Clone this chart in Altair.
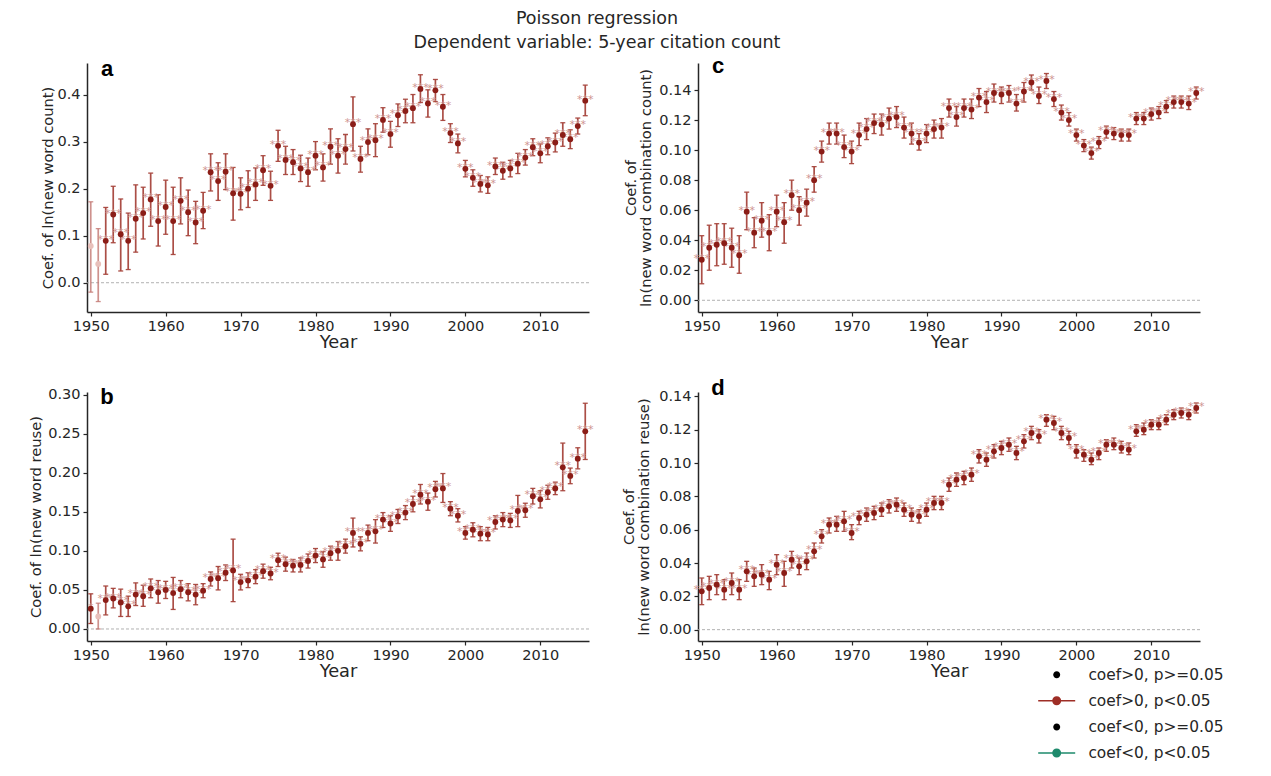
import altair as alt
import pandas as pd

# ---------------- data ----------------
years = list(range(1950, 2017))
x_ticks = [1950, 1960, 1970, 1980, 1990, 2000, 2010]

a_coef = [0.078, 0.040, 0.089, 0.145, 0.103, 0.089, 0.136, 0.148, 0.177, 0.131,
          0.161, 0.131, 0.174, 0.150, 0.128, 0.153, 0.235, 0.216, 0.236, 0.190,
          0.189, 0.200, 0.209, 0.239, 0.206, 0.291, 0.261, 0.256, 0.243, 0.235,
          0.270, 0.245, 0.289, 0.270, 0.284, 0.337, 0.263, 0.299, 0.303, 0.346,
          0.316, 0.356, 0.365, 0.371, 0.412, 0.381, 0.409, 0.374, 0.318, 0.296,
          0.242, 0.223, 0.210, 0.207, 0.247, 0.238, 0.243, 0.253, 0.266, 0.288,
          0.275, 0.290, 0.298, 0.314, 0.305, 0.333, 0.387]
a_lo = [-0.020, -0.040, 0.018, 0.085, 0.025, 0.028, 0.065, 0.093, 0.120, 0.078,
        0.103, 0.060, 0.125, 0.100, 0.083, 0.115, 0.195, 0.175, 0.198, 0.133,
        0.155, 0.160, 0.175, 0.207, 0.175, 0.258, 0.230, 0.230, 0.215, 0.205,
        0.240, 0.216, 0.252, 0.233, 0.252, 0.280, 0.235, 0.272, 0.268, 0.320,
        0.288, 0.332, 0.340, 0.340, 0.383, 0.352, 0.385, 0.345, 0.298, 0.276,
        0.225, 0.205, 0.193, 0.190, 0.230, 0.220, 0.225, 0.232, 0.250, 0.270,
        0.255, 0.272, 0.278, 0.290, 0.285, 0.316, 0.355]
a_hi = [0.172, 0.115, 0.160, 0.205, 0.178, 0.148, 0.208, 0.203, 0.233, 0.187,
        0.218, 0.203, 0.223, 0.197, 0.173, 0.192, 0.274, 0.255, 0.274, 0.245,
        0.223, 0.238, 0.244, 0.270, 0.237, 0.324, 0.290, 0.283, 0.271, 0.265,
        0.300, 0.274, 0.327, 0.306, 0.315, 0.395, 0.290, 0.327, 0.338, 0.372,
        0.343, 0.380, 0.390, 0.400, 0.442, 0.410, 0.432, 0.400, 0.338, 0.316,
        0.260, 0.240, 0.228, 0.225, 0.265, 0.256, 0.260, 0.275, 0.283, 0.306,
        0.295, 0.308, 0.318, 0.340, 0.325, 0.350, 0.420]
a_nonsig = [1950, 1951]

b_coef = [0.026, 0.016, 0.037, 0.039, 0.034, 0.029, 0.044, 0.042, 0.052, 0.047,
          0.050, 0.046, 0.051, 0.047, 0.044, 0.049, 0.064, 0.065, 0.072, 0.075,
          0.060, 0.062, 0.067, 0.074, 0.071, 0.088, 0.083, 0.081, 0.082, 0.087,
          0.094, 0.089, 0.097, 0.100, 0.106, 0.123, 0.109, 0.123, 0.125, 0.140,
          0.135, 0.144, 0.149, 0.160, 0.172, 0.163, 0.179, 0.180, 0.154, 0.145,
          0.123, 0.127, 0.122, 0.121, 0.137, 0.140, 0.139, 0.151, 0.152, 0.170,
          0.166, 0.175, 0.180, 0.207, 0.196, 0.218, 0.253]
b_lo = [0.007, 0.000, 0.018, 0.027, 0.016, 0.016, 0.030, 0.029, 0.040, 0.033,
        0.039, 0.025, 0.040, 0.036, 0.031, 0.040, 0.055, 0.050, 0.062, 0.035,
        0.050, 0.053, 0.058, 0.065, 0.063, 0.080, 0.074, 0.073, 0.073, 0.078,
        0.085, 0.079, 0.088, 0.088, 0.097, 0.105, 0.100, 0.113, 0.110, 0.130,
        0.125, 0.135, 0.140, 0.150, 0.160, 0.152, 0.169, 0.162, 0.145, 0.137,
        0.115, 0.118, 0.113, 0.113, 0.128, 0.131, 0.130, 0.131, 0.143, 0.160,
        0.155, 0.166, 0.172, 0.177, 0.186, 0.205, 0.217]
b_hi = [0.045, 0.033, 0.055, 0.052, 0.051, 0.042, 0.059, 0.056, 0.064, 0.062,
        0.061, 0.066, 0.062, 0.058, 0.057, 0.058, 0.073, 0.080, 0.082, 0.115,
        0.070, 0.072, 0.076, 0.083, 0.079, 0.097, 0.092, 0.089, 0.091, 0.096,
        0.103, 0.099, 0.106, 0.112, 0.115, 0.142, 0.118, 0.133, 0.140, 0.149,
        0.145, 0.153, 0.158, 0.170, 0.185, 0.174, 0.189, 0.199, 0.163, 0.154,
        0.131, 0.136, 0.131, 0.130, 0.145, 0.149, 0.148, 0.171, 0.161, 0.180,
        0.177, 0.184, 0.188, 0.238, 0.206, 0.232, 0.289]
b_nonsig = [1951]

c_coef = [0.027, 0.035, 0.037, 0.038, 0.035, 0.030, 0.059, 0.045, 0.053, 0.045,
          0.059, 0.052, 0.070, 0.060, 0.065, 0.080, 0.099, 0.111, 0.111, 0.102,
          0.099, 0.110, 0.114, 0.118, 0.117, 0.121, 0.122, 0.115, 0.111, 0.105,
          0.111, 0.114, 0.115, 0.128, 0.122, 0.128, 0.127, 0.135, 0.132, 0.138,
          0.137, 0.138, 0.131, 0.139, 0.145, 0.136, 0.146, 0.134, 0.125, 0.120,
          0.110, 0.103, 0.098, 0.105, 0.112, 0.111, 0.110, 0.110, 0.121, 0.121,
          0.124, 0.125, 0.129, 0.132, 0.132, 0.131, 0.138]
c_lo = [0.011, 0.020, 0.023, 0.024, 0.022, 0.018, 0.047, 0.035, 0.042, 0.033,
        0.049, 0.038, 0.060, 0.050, 0.056, 0.072, 0.092, 0.104, 0.104, 0.095,
        0.091, 0.103, 0.107, 0.111, 0.110, 0.114, 0.115, 0.108, 0.104, 0.100,
        0.105, 0.108, 0.108, 0.122, 0.116, 0.122, 0.121, 0.129, 0.125, 0.132,
        0.131, 0.132, 0.126, 0.132, 0.140, 0.131, 0.141, 0.129, 0.120, 0.116,
        0.106, 0.099, 0.094, 0.101, 0.108, 0.107, 0.106, 0.106, 0.117, 0.117,
        0.120, 0.121, 0.125, 0.128, 0.128, 0.127, 0.134]
c_hi = [0.043, 0.050, 0.051, 0.051, 0.048, 0.043, 0.072, 0.055, 0.065, 0.057,
        0.070, 0.065, 0.080, 0.069, 0.074, 0.089, 0.106, 0.118, 0.118, 0.110,
        0.106, 0.118, 0.121, 0.124, 0.124, 0.128, 0.129, 0.122, 0.118, 0.111,
        0.117, 0.120, 0.121, 0.134, 0.129, 0.134, 0.134, 0.141, 0.139, 0.144,
        0.142, 0.143, 0.137, 0.145, 0.150, 0.142, 0.151, 0.139, 0.130, 0.125,
        0.114, 0.107, 0.102, 0.109, 0.116, 0.115, 0.114, 0.114, 0.125, 0.125,
        0.128, 0.129, 0.133, 0.136, 0.136, 0.136, 0.142]
c_nonsig = []

d_coef = [0.023, 0.025, 0.027, 0.024, 0.028, 0.024, 0.035, 0.032, 0.033, 0.030,
          0.039, 0.034, 0.042, 0.038, 0.041, 0.047, 0.056, 0.063, 0.063, 0.065,
          0.058, 0.067, 0.069, 0.070, 0.072, 0.074, 0.075, 0.072, 0.069, 0.068,
          0.072, 0.076, 0.076, 0.087, 0.090, 0.091, 0.093, 0.104, 0.102, 0.107,
          0.109, 0.111, 0.106, 0.113, 0.118, 0.116, 0.126, 0.124, 0.118, 0.115,
          0.107, 0.105, 0.102, 0.106, 0.111, 0.111, 0.109, 0.108, 0.119, 0.120,
          0.123, 0.123, 0.126, 0.129, 0.130, 0.129, 0.133]
d_lo = [0.015, 0.018, 0.021, 0.018, 0.021, 0.018, 0.029, 0.026, 0.027, 0.024,
        0.033, 0.026, 0.037, 0.033, 0.036, 0.043, 0.052, 0.058, 0.059, 0.059,
        0.054, 0.063, 0.065, 0.066, 0.068, 0.070, 0.071, 0.068, 0.065, 0.064,
        0.068, 0.072, 0.072, 0.083, 0.086, 0.087, 0.089, 0.100, 0.098, 0.103,
        0.105, 0.107, 0.102, 0.109, 0.114, 0.112, 0.122, 0.120, 0.114, 0.111,
        0.103, 0.101, 0.099, 0.102, 0.107, 0.108, 0.106, 0.105, 0.116, 0.117,
        0.120, 0.120, 0.123, 0.126, 0.127, 0.126, 0.130]
d_hi = [0.031, 0.032, 0.033, 0.030, 0.034, 0.030, 0.041, 0.037, 0.039, 0.035,
        0.045, 0.041, 0.047, 0.043, 0.046, 0.052, 0.060, 0.067, 0.068, 0.071,
        0.063, 0.071, 0.073, 0.074, 0.076, 0.078, 0.079, 0.076, 0.073, 0.072,
        0.076, 0.080, 0.080, 0.091, 0.094, 0.095, 0.097, 0.108, 0.106, 0.111,
        0.113, 0.115, 0.110, 0.117, 0.122, 0.120, 0.129, 0.128, 0.122, 0.119,
        0.111, 0.108, 0.106, 0.109, 0.114, 0.115, 0.113, 0.112, 0.123, 0.124,
        0.126, 0.127, 0.129, 0.132, 0.133, 0.132, 0.136]
d_nonsig = []

a_ticks = [0.0, 0.1, 0.2, 0.3, 0.4]
b_ticks = [0.0, 0.05, 0.10, 0.15, 0.20, 0.25, 0.30]
c_ticks = [0.0, 0.02, 0.04, 0.06, 0.08, 0.10, 0.12, 0.14]
d_ticks = [0.0, 0.02, 0.04, 0.06, 0.08, 0.10, 0.12, 0.14]

legend_labels = ["coef>0, p>=0.05", "coef>0, p<0.05", "coef<0, p>=0.05", "coef<0, p<0.05"]
legend_colors = ["#000000", "#9e2e26", "#000000", "#1e8a6c"]

# ---------------- styling ----------------
FONT = "DejaVu Sans"
DOT = "#8b1d17"
BAR = "#a6453c"
STAR = "#cf9590"
NS_DOT = "#e8c0bb"
NS_BAR = "#c27670"
W, H = 502, 249

DOT_PATH = "M0.7,0A0.7,0.7,0,1,1,-0.7,0A0.7,0.7,0,1,1,0.7,0Z"
LINE_DOT_PATH = ("M-3.7,-0.16L3.7,-0.16L3.7,0.16L-3.7,0.16Z"
                 "M0.9,0A0.9,0.9,0,1,1,-0.9,0A0.9,0.9,0,1,1,0.9,0Z")
legend_shapes = [DOT_PATH, LINE_DOT_PATH, DOT_PATH, LINE_DOT_PATH]


def make_df(coef, lo, hi, nonsig, override=None):
    df = pd.DataFrame({"year": years, "coef": coef, "lo": lo, "hi": hi})
    df["sig"] = ~df["year"].isin(nonsig)
    df["stars"] = ["***" if s else "" for s in df["sig"]]
    if override:
        for yr, st in override.items():
            df.loc[df["year"] == yr, "stars"] = st
    return df


def panel(df, ydom, yticks, yfmt, ytitle, title_x, letter, letter_y, with_legend=False):
    xs = alt.Scale(domain=[1949.5, 2016.5], nice=False, zero=False)
    xa = alt.Axis(values=x_ticks, format="d", title="Year", titleFontSize=17.8,
                  titleY=30, titleBaseline="middle", labelFlush=False, labelOverlap=False)
    ys = alt.Scale(domain=ydom, nice=False, zero=False)
    ya = alt.Axis(values=yticks, format=yfmt, title=ytitle, titleFontSize=14.7,
                  titleX=title_x, titleY=H / 2, titleAngle=270, titleAlign="center",
                  titleBaseline="middle", titleLineHeight=15, labelOverlap=False)
    X = alt.X("year:Q", scale=xs, axis=xa)

    def Y(f):
        return alt.Y(f, scale=ys, axis=ya)

    base = alt.Chart(df)
    sig = base.transform_filter("datum.sig")
    ns = base.transform_filter("!datum.sig")

    zero = alt.Chart(pd.DataFrame({"zero": [0.0]})).mark_rule(
        color="#a8a8a8", strokeWidth=0.9, strokeDash=[3, 2]).encode(y=Y("zero:Q"))

    layers = [zero]
    for src, bc, dc, op in [(ns, NS_BAR, NS_DOT, 0.8), (sig, BAR, DOT, 0.95)]:
        layers.append(src.mark_rule(color=bc, strokeWidth=1.7, opacity=op).encode(
            x=X, y=Y("lo:Q"), y2="hi:Q"))
        layers.append(src.mark_tick(orient="horizontal", color=bc, size=5, thickness=1.3,
                                    opacity=op).encode(x=X, y=Y("lo:Q")))
        layers.append(src.mark_tick(orient="horizontal", color=bc, size=5, thickness=1.3,
                                    opacity=op).encode(x=X, y=Y("hi:Q")))
        if src is sig:
            layers.append(src.mark_text(font=FONT, fontSize=11, color=STAR, align="center",
                                        baseline="middle", dy=-1).encode(
                x=X, y=Y("coef:Q"), text="stars:N"))
        layers.append(src.mark_circle(color=dc, size=34, opacity=1).encode(x=X, y=Y("coef:Q")))

    layers.append(alt.Chart(pd.DataFrame({"letter": [letter]})).mark_text(
        font="Liberation Sans", fontWeight="bold", fontSize=22, color="#000000",
        align="center", baseline="alphabetic").encode(
        x=alt.value(20), y=alt.value(letter_y), text="letter:N"))

    if with_legend:
        # legend coordinates are relative to the whole concatenated chart
        leg = alt.Legend(orient="none", legendX=962, legendY=604, title=None,
                         labelFont=FONT, labelFontSize=15.4, labelColor="#262626",
                         symbolSize=100, labelOffset=24, rowPadding=9.1, padding=0,
                         symbolStrokeWidth=0, symbolOpacity=1, labelLimit=300)
        layers.append(alt.Chart(pd.DataFrame({"label": legend_labels}))
                      .transform_filter("false")
                      .mark_point(filled=True)
                      .encode(color=alt.Color("label:N", scale=alt.Scale(domain=legend_labels, range=legend_colors), legend=leg),
                              shape=alt.Shape("label:N", scale=alt.Scale(domain=legend_labels, range=legend_shapes), legend=leg)))

    return alt.layer(*layers).properties(width=W, height=H)


pa = panel(make_df(a_coef, a_lo, a_hi, a_nonsig), [-0.0622, 0.467], a_ticks, ".1f",
           "Coef. of ln(new word count)", -39, "a", 13)
pb = panel(make_df(b_coef, b_lo, b_hi, b_nonsig, {1950: "*"}), [-0.0154, 0.3034], b_ticks, ".2f",
           "Coef. of ln(new word reuse)", -51, "b", 11.5)
pc = panel(make_df(c_coef, c_lo, c_hi, c_nonsig), [-0.0078, 0.158], c_ticks, ".2f",
           ["Coef. of", "ln(new word combination count)"], -67, "c", 9.5)
pd_ = panel(make_df(d_coef, d_lo, d_hi, d_nonsig), [-0.0068, 0.1426], d_ticks, ".2f",
            ["Coef. of", "ln(new word combination reuse)"], -69, "d", 3, with_legend=True)

chart = alt.concat(pa, pc, pb, pd_, columns=2, spacing={"row": 80, "column": 109},
                   bounds="flush").properties(
    title=alt.TitleParams(text=["Poisson regression", "Dependent variable: 5-year citation count"],
                          font=FONT, fontSize=17.5, fontWeight="normal", color="#262626",
                          anchor="start", align="center", frame="group", lineHeight=24,
                          offset=3, dx=510),
    padding={"left": 19, "top": 2, "right": 5, "bottom": 5},
).configure_axis(
    domainColor="#262626", domainWidth=1.5, tickColor="#262626", tickWidth=1.2, tickSize=4,
    labelFont=FONT, labelFontSize=14.5, labelColor="#262626", labelPadding=3,
    titleFont=FONT, titleFontWeight="normal", titleColor="#262626", grid=False,
).configure_view(stroke=None)

chart.save("out.html", embed_options={"renderer": "svg", "actions": False})
